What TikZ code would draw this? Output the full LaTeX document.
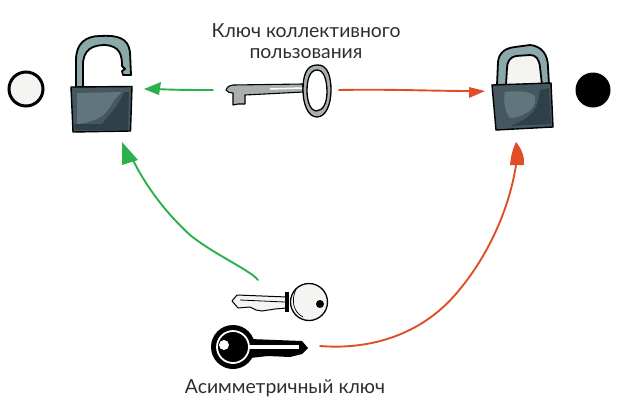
\documentclass[tikz,border=0pt]{standalone}
\usepackage{fontspec}
\setmainfont{Lato}
\definecolor{arrgreen}{HTML}{2BB04A}
\definecolor{arrred}{HTML}{E04E25}
\definecolor{shack}{HTML}{8BA8AA}
\definecolor{bodymid}{HTML}{46585F}
\definecolor{bodylight}{HTML}{61767C}
\definecolor{bodydark}{HTML}{2E414B}
\definecolor{offwhite}{HTML}{F4F5F2}
\definecolor{keygray}{HTML}{A9AFAF}
\definecolor{txt}{HTML}{2E2E2E}
\tikzset{
  ink/.style={draw=black,line width=1.3pt,line join=round,line cap=round},
  arrowg/.style={draw=arrgreen,line width=1.9pt,line cap=round},
  arrowr/.style={draw=arrred,line width=1.9pt,line cap=round},
  label/.style={text=txt,font=\fontsize{19.4}{22}\selectfont,align=center,inner sep=0pt},
  state/.style={circle,inner sep=0pt,minimum size=35pt,line width=3pt},
}
\begin{document}
\begin{tikzpicture}[x=1pt,y=-1pt]
\useasboundingbox (0,0) rectangle (621,416);
% state circles
\node[state,draw=black,fill=offwhite,minimum size=34pt] (sOpen) at (26,89) {};
\node[state,fill=black,minimum size=35pt] (sClosed) at (593,90) {};
% open lock
\path[ink,fill=shack,line width=1.8pt] (76,88) -- (76,60) .. controls (76,44) and (85,36) .. (100,36) .. controls (118,35) and (128,38) .. (130,52) -- (131,75) -- (123,75) -- (122,71) -- (125,69) -- (122,66) .. controls (122,55) and (120,46) .. (105,45) .. controls (92,45) and (83,50) .. (83,65) -- (83,88) -- cycle;
\path[draw=black,line width=1.4pt,fill=bodymid] (71,87) -- (132,86.5) -- (130.5,131) -- (73,132) -- cycle;
\fill[bodylight] (77,93) -- (122,92) .. controls (112,100) and (112,108) .. (102,116) .. controls (92,122) and (82,124) .. (77,124) -- cycle;
\fill[bodydark] (124,92) -- (129,92) -- (128,128) -- (100,127) .. controls (108,115) and (118,108) .. (124,92) -- cycle;
\fill[bodydark] (74,124) -- (128,124) -- (128,130) -- (75,130) -- cycle;
% closed lock
\path[fill=offwhite] (505,85) -- (507,65) .. controls (508,56) and (520,54) .. (533,55) .. controls (540,57) and (542,70) .. (542,85) -- cycle;
\path[ink,fill=shack,line width=1.8pt] (497,85) -- (498,62) .. controls (499,52) and (506,48) .. (515,47) -- (530,45) .. controls (542,46) and (548,55) .. (548,67) -- (549,85) -- (542,85) -- (540,67) .. controls (539,59) and (536,55) .. (530,55) -- (516,56) .. controls (510,57) and (507,62) .. (507,68) -- (506,85) -- cycle;
\path[draw=black,line width=1.4pt,fill=bodymid] (492,85) -- (551,83) -- (553,127) -- (496,130) -- cycle;
\fill[bodylight] (505,92) .. controls (520,90) and (535,92) .. (535,98) .. controls (538,110) and (520,118) .. (510,118) .. controls (505,112) and (503,100) .. (505,92) -- cycle;
\fill[bodydark] (540,90) -- (549,88) -- (551,124) -- (510,126) .. controls (525,120) and (538,115) .. (540,90) -- cycle;
% shared key
\path[ink,fill=keygray,line width=1.1pt] (303,84) -- (233,85) .. controls (228,86) and (226,88) .. (226,90) .. controls (227,92) and (230,93) .. (233,93) -- (233,105) -- (238,104) -- (245,104) -- (245,95) -- (303,92) -- cycle;
\draw[draw=white,line width=1.5pt] (270,89) -- (302,88);
\path[ink,fill=keygray,line width=1.3pt,even odd rule] (317,65) .. controls (328,64) and (331,78) .. (331,90) .. controls (331,104) and (326,117) .. (317,117) .. controls (308,117) and (303,104) .. (303,90) .. controls (303,76) and (306,65) .. (317,65) -- cycle
 (317,70) .. controls (324,70) and (327,80) .. (327,92) .. controls (327,103) and (323,111) .. (316,111) .. controls (311,111) and (307,102) .. (307,91) .. controls (307,79) and (310,70) .. (317,70) -- cycle;
% white key
\path[draw=black,line width=1pt,fill=offwhite,line join=round] (287,297) -- (237,295) -- (232,301) -- (238,308) -- (250,307) -- (256,310) -- (262,311) -- (275,309) -- (287,308) -- cycle;
\draw[line width=.8pt] (240,300) -- (285,302);
\fill[black] (285,292) rectangle (289,312);
\node[circle,draw=black,line width=1.3pt,fill=offwhite,inner sep=0pt,minimum width=37pt,minimum height=37pt] (whiteKey) at (309,302) {};
\draw[line width=.7pt] (296,289) .. controls (291,300) and (293,312) .. (303,317);
\fill[black] (320,304) circle (4);
% black key
\fill[black] (250,339) -- (302,341) -- (308,348) -- (302,354) -- (290,357) -- (268,356) -- (250,358) -- cycle;
\node[circle,fill=black,inner sep=0pt,minimum size=44pt] (blackKey) at (233,347) {};
\draw[white,line width=1.8pt] (233,347) circle (16);
\draw[white,line width=3.5pt] (250,347) -- (299,347);
\fill[white] (224,345) circle (5);
% connector ends
\coordinate (sharedL) at (213,90);
\coordinate (sharedR) at (339,90);
\coordinate (openW) at (144,89);
\coordinate (closedW) at (485,91);
\coordinate (openS) at (122,142);
\coordinate (closedS) at (516,142);
\coordinate (whiteTop) at (258,280);
\coordinate (blackRight) at (320,346);
% connectors
\path[arrowg] (sharedL) .. controls (195,90) and (175,90) .. (155,89);
\fill[arrgreen] (openW) -- (161,82) -- (159,95) -- cycle;
\path[arrowr] (sharedR) .. controls (390,89) and (430,91) .. (472,91);
\fill[arrred] (closedW) -- (469,87) -- (469,98) -- cycle;
\path[arrowg] (whiteTop) .. controls (250,270) and (215,255) .. (190,235) .. controls (165,212) and (145,185) .. (132,158);
\fill[arrgreen] (openS) -- (138,160) -- (122,165) -- cycle;
\path[arrowr] (blackRight) .. controls (370,350) and (420,335) .. (455,295) .. controls (490,255) and (510,205) .. (516,165);
\fill[arrred] (closedS) .. controls (520,147) and (525,155) .. (524,165) -- (510,165) .. controls (511,155) and (513,148) .. (closedS) -- cycle;
% labels
\node[label] (sharedLabel) at (306,41) {Ключ коллективного\\[-1pt]пользования};
\node[label] (asymLabel) at (285,388) {Асимметричный ключ};
\end{tikzpicture}
\end{document}
